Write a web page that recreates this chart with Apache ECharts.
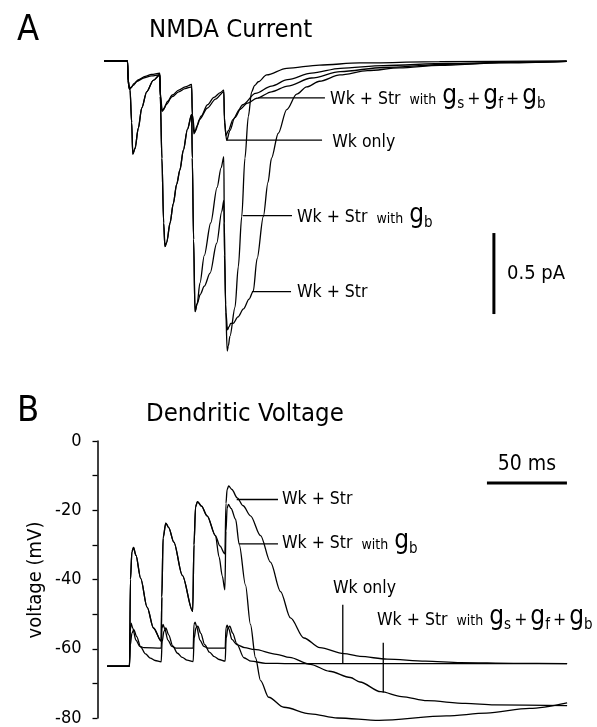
<!DOCTYPE html>
<html><head><meta charset="utf-8">
<script src="https://cdn.jsdelivr.net/npm/echarts@6/dist/echarts.min.js"></script>
<style>html,body{margin:0;padding:0;background:#fff}#c{width:597px;height:727px}</style>
</head><body><div id="c"></div>
<script>
const FONT = "'DejaVu Sans Condensed','Liberation Sans Narrow','Arial Narrow',sans-serif";

// ---- time axis (ms after first stimulus), shared by both panels ----
const timeMin = -20, timeMax = 275;

// ---- Panel A: NMDA current (pA, inward = negative) ----
const currentWkOnly = [
[-14.7,0],[0,0],[0.4,-0.12],[1.5,-0.17],[2.5,-0.16],[4,-0.14],[7,-0.115],[11,-0.095],[15,-0.083],[20.2,-0.075],
[20.6,-0.22],[21.8,-0.31],[23,-0.29],[25,-0.25],[28,-0.21],[32,-0.18],[36,-0.16],[40.1,-0.145],
[40.5,-0.33],[42,-0.44],[43.5,-0.40],[46,-0.34],[50,-0.27],[54,-0.225],[58,-0.195],[60.2,-0.18],
[60.6,-0.38],[62,-0.49],[64,-0.43],[67,-0.35],[72,-0.27],[80,-0.20],[90,-0.155],[100,-0.115],[115,-0.075],[133,-0.045],[160,-0.028],[200,-0.015],[240,-0.007],[274.5,-0.002]
];
const currentGsGfGb = [
[-14.7,0],[0,0],[0.4,-0.12],[1.2,-0.175],[2.3,-0.165],[3.5,-0.15],[6,-0.125],[10,-0.105],[15,-0.092],[20.2,-0.085],
[20.6,-0.2],[21.5,-0.31],[22.5,-0.30],[24,-0.27],[28,-0.22],[32,-0.19],[36,-0.17],[40.1,-0.16],
[40.5,-0.33],[41.5,-0.45],[42.5,-0.43],[45,-0.36],[50,-0.29],[55,-0.235],[60.2,-0.19],
[60.6,-0.35],[61.5,-0.46],[63,-0.43],[66,-0.36],[70,-0.30],[75,-0.26],[80.8,-0.23],[90,-0.19],[100,-0.155],[115,-0.105],[133,-0.065],[160,-0.04],[200,-0.02],[240,-0.009],[274.5,-0.002]
];
const currentWkStr = [
[-14.7,0],[0,0],[0.6,-0.15],[1.6,-0.18],[2.6,-0.38],[3.3,-0.575],[4.7,-0.54],[6.75,-0.415],[8.9,-0.29],[12,-0.19],[16.1,-0.12],[20.2,-0.085],
[20.5,-0.22],[21.5,-0.6],[22.6,-1.0],[23.4,-1.146],[24.5,-1.12],[26.6,-1.0],[28.6,-0.88],[30.75,-0.76],[32.8,-0.67],[34.9,-0.55],[37.5,-0.42],[40.1,-0.33],
[40.5,-0.6],[41.3,-1.1],[42.2,-1.547],[43.5,-1.5],[45.5,-1.44],[48,-1.39],[51.6,-1.31],[55.75,-1.125],[58.9,-0.93],[60.2,-0.86],
[60.6,-1.2],[61.5,-1.55],[62.5,-1.66],[63.5,-1.64],[64.5,-1.62],[66,-1.62],[69,-1.58],[72.5,-1.53],[76,-1.47],[78.6,-1.42],[81,-1.22],[84.9,-0.96],[87.8,-0.75],[90,-0.6],[94.25,-0.446],[99.5,-0.30],[105.75,-0.205],[112,-0.16],[120,-0.125],[132.8,-0.086],[150,-0.06],[170,-0.042],[195,-0.027],[233,-0.012],[274.5,-0.002]
];
const currentWkStrGb = [
[-14.7,0],[0,0],[0.6,-0.15],[1.6,-0.18],[2.6,-0.38],[3.3,-0.575],[4.7,-0.54],[6.75,-0.415],[8.9,-0.29],[12,-0.19],[16.1,-0.12],[20.2,-0.085],
[20.5,-0.22],[21.5,-0.6],[22.6,-1.0],[23.4,-1.146],[24.5,-1.12],[26.6,-1.0],[28.6,-0.88],[30.75,-0.76],[32.8,-0.67],[34.9,-0.55],[37.5,-0.42],[40.1,-0.33],
[40.5,-0.6],[41.3,-1.1],[42.2,-1.547],[43.5,-1.5],[45.3,-1.37],[48,-1.2],[52,-1.0],[56,-0.78],[58.5,-0.66],[60.2,-0.59],
[60.5,-1.0],[61.3,-1.5],[62.3,-1.79],[63,-1.76],[64,-1.70],[67.2,-1.52],[69.25,-1.27],[71.4,-0.96],[73.4,-0.6],[75.5,-0.344],[77.6,-0.19],[79.5,-0.15],[81.75,-0.128],[87,-0.086],[99.5,-0.045],[120,-0.025],[145,-0.012],[195,-0.004],[274.5,0]
];

// ---- Panel B: dendritic voltage (mV) ----
const voltageWkOnly = [
[-14,-65],[0,-65],[0.5,-59],[1.5,-55.5],[2.7,-54.5],[4.5,-56.5],[7,-59.5],[10,-61.5],[13,-62.7],[16,-63.4],[19.8,-63.8],
[20.4,-58],[21.5,-55],[22.7,-54],[24.5,-56],[27,-59.2],[30,-61.3],[33,-62.5],[36,-63.3],[39.8,-63.7],
[40.4,-57],[41.5,-54],[42.7,-53.5],[44.5,-55.5],[47,-58.8],[50,-61],[53,-62.3],[56,-63.1],[59.8,-63.6],
[60.4,-57],[61.5,-54],[62.7,-53.5],[64.5,-55.5],[67,-58.5],[71.5,-62.6],[76,-63.6],[85,-64.2],[100,-64.3],[273.5,-64.3]
];
const voltageGsGfGb = [
[-14,-65],[0,-65],[0.4,-55],[1,-52.6],[2,-54],[4,-57.5],[6.5,-59.3],[9,-59.7],[19.8,-59.8],
[20.3,-54],[21,-53],[22,-54.2],[24,-57.5],[26.5,-59.3],[29,-59.8],[39.8,-59.8],
[40.3,-53],[41,-52.3],[42,-53.7],[44,-57.5],[46.5,-59.3],[49,-59.8],[59.8,-59.8],
[60.3,-54],[61,-53.2],[62,-54.2],[64,-57.3],[67,-58.8],[72,-59.7],[78,-60.2],[92,-61.6],[100,-62.5],[113,-64.5],[125,-66.5],[138,-68.3],[144,-69.6],[157,-72.4],[170,-73.8],[186,-75],[210,-75.8],[228,-76.2],[273.5,-76.4]
];
const voltageWkStr = [
[-14,-65],[0,-65],[0.6,-40],[1.5,-32],[2.5,-30.7],[4,-33],[7,-39.7],[11,-48],[15,-54],[19.8,-57.8],
[20.2,-45],[21,-28],[22.7,-23.7],[24.5,-25],[27.7,-29.2],[33,-38.8],[39.5,-49.2],
[40.3,-30],[41.3,-19],[42.5,-17.5],[45,-18.8],[48.5,-21.6],[53.7,-27.3],[56.5,-30.3],[59.6,-32.6],
[60.3,-18],[61,-14],[62,-13],[64,-14],[67.3,-16.4],[71,-18.7],[75.6,-21.6],[81.9,-27.3],[88.1,-35],[94.4,-43.5],[100.6,-51.1],[109,-56.9],[119,-59.7],[134,-61.4],[144,-62.2],[161,-63],[185,-63.6],[207,-64],[240,-64.2],[273.5,-64.3]
];
const voltageWkStrGb = [
[-14,-65],[0,-65],[0.6,-40],[1.5,-32],[2.5,-30.7],[4,-33],[7,-39.7],[11,-48],[15,-54],[19.8,-57.8],
[20.2,-45],[21,-28],[22.7,-23.7],[24.5,-25],[27.7,-29.2],[33,-38.8],[39.5,-49.2],
[40.3,-30],[41.3,-19],[42.5,-17.5],[45,-18.8],[48.5,-21.6],[53.7,-27.3],[56,-33.5],[58,-39],[59.6,-43],
[60.3,-26],[61,-19.5],[61.8,-18.3],[63.5,-19.5],[66.3,-22.6],[68.6,-29.9],[72.5,-41.6],[75.6,-53],[78.75,-62.6],[81.9,-69.2],[87,-74],[96.5,-76.9],[113,-78.8],[130,-80],[156,-80.7],[198,-79.4],[223,-78.6],[250,-77.2],[273.5,-75.6]
];
const voltageTicks = { min: -80, max: 0, interval: 20 };

// ---- scale bars (data units) ----
const scaleTime = 50;   // ms
const scaleCurrent = 0.5; // pA

const chart = echarts.init(document.getElementById('c'), null, {renderer: 'canvas', width: 597, height: 727});
const trace = (data, idx) => ({
  type: 'line', xAxisIndex: idx, yAxisIndex: idx, data: data,
  symbol: 'none', smooth: 0.3, smoothMonotone: 'x', clip: false, silent: true,
  lineStyle: {color: '#000', width: 1.3}
});
chart.setOption({
  animation: false,
  backgroundColor: '#fff',
  grid: [
    {left: 95.5, right: 29.5, top: 44.8, bottom: 358.2},
    {left: 97.5, right: 27.5, top: 441, bottom: 7}
  ],
  xAxis: [
    {gridIndex: 0, type: 'value', min: timeMin, max: timeMax, show: false},
    {gridIndex: 1, type: 'value', min: timeMin, max: timeMax, show: false}
  ],
  yAxis: [
    {gridIndex: 0, type: 'value', min: -1.9, max: 0.1, show: false},
    {gridIndex: 1, type: 'value', min: voltageTicks.min, max: voltageTicks.max, interval: voltageTicks.interval,
     axisLine: {show: true, onZero: false, lineStyle: {color: '#000', width: 1.5}},
     axisTick: {show: true, length: 5, lineStyle: {color: '#000', width: 1.3}},
     minorTick: {show: true, splitNumber: 2, length: 5, lineStyle: {color: '#000', width: 1.3}},
     splitLine: {show: false},
     axisLabel: {color: '#000', fontSize: 18, fontFamily: FONT, margin: 16}}
  ],
  series: [
    trace(currentWkOnly, 0), trace(currentGsGfGb, 0), trace(currentWkStr, 0), trace(currentWkStrGb, 0),
    trace(voltageWkOnly, 1), trace(voltageGsGfGb, 1), trace(voltageWkStr, 1), trace(voltageWkStrGb, 1)
  ]
});

// ---- annotations ----
const cvs = document.createElement('canvas').getContext('2d');
function fontStr(s) { return s + 'px ' + FONT; }
function measure(t, s) { cvs.font = fontStr(s); return cvs.measureText(t).width; }
const els = [];
function txt(t, x, y, s, opts) {
  opts = opts || {};
  els.push({type: 'text', x: x, y: y, rotation: opts.rot || 0, z: 100,
    style: {text: t, font: fontStr(s), fill: '#000', textAlign: opts.align || 'left', textVerticalAlign: 'middle',
            align: opts.align || 'left', verticalAlign: 'middle'}});
}
function seg(p1, p2, w) {
  els.push({type: 'line', z: 100, shape: {x1: p1[0], y1: p1[1], x2: p2[0], y2: p2[1]},
    style: {stroke: '#000', lineWidth: w || 1.3}});
}
const LBL = 17.5;
// sequence of pieces: [text, size, isSub, gapBefore]
function seq(x, yMid, pieces) {
  const base = yMid + 0.35 * LBL;
  let cx = x;
  pieces.forEach(p => {
    cx += p[3] || 0;
    const s = p[1];
    const b = base + (p[2] ? 4.5 : 0);
    txt(p[0], cx, b - 0.3465 * s, s);
    cx += measure(p[0], s);
  });
}
const withPieces = (subs) => {
  const arr = [['Wk + Str', LBL, false, 0], ['with', 14, false, 9]];
  subs.forEach((sb, i) => {
    if (i > 0) arr.push(['+', LBL, false, 3]);
    arr.push(['g', 26, false, i === 0 ? 6 : 3]);
    arr.push([sb, 15, true, 0]);
  });
  return arr;
};
const pA = (t, v) => chart.convertToPixel({gridIndex: 0}, [t, v]);
const pB = (t, v) => chart.convertToPixel({gridIndex: 1}, [t, v]);

// Panel A labels
seg(pA(81.6, -0.228), pA(123.4, -0.228));
seq(pA(126.6, 0)[0], pA(0, -0.228)[1] + 1, withPieces(['s', 'f', 'b']));
seg(pA(62, -0.488), pA(121.6, -0.488));
seq(pA(128, 0)[0], pA(0, -0.488)[1] + 2, [['Wk only', LBL, false, 0]]);
seg(pA(72, -0.955), pA(102.8, -0.955));
seq(pA(105.9, 0)[0], pA(0, -0.955)[1] + 2, withPieces(['b']));
seg(pA(77.8, -1.424), pA(102.2, -1.424));
seq(pA(105.9, 0)[0], pA(0, -1.424)[1] + 1, [['Wk + Str', LBL, false, 0]]);
// current scale bar
seg(pA(229, -1.062), pA(229, -1.062 - scaleCurrent), 3);
txt('0.5 pA', pA(237.2, 0)[0], pA(0, -1.062 - scaleCurrent / 2)[1], 20);

// Panel B labels
seg(pB(67, -16.9), pB(92.8, -16.9));
seq(pB(95.3, 0)[0], pB(0, -16.9)[1], [['Wk + Str', LBL, false, 0]]);
seg(pB(68.4, -29.7), pB(92.8, -29.7));
seq(pB(95.3, 0)[0], pB(0, -29.7)[1], withPieces(['b']));
seg(pB(133.3, -47.3), pB(133.3, -64.2));
seq(pB(127.2, 0)[0], pB(0, -42.6)[1], [['Wk only', LBL, false, 0]]);
seg(pB(158.6, -58.3), pB(158.6, -72.6));
seq(pB(154.7, 0)[0], pB(0, -51.7)[1], withPieces(['s', 'f', 'b']));
// time scale bar
seg(pB(223.4, -12.1), pB(223.4 + scaleTime, -12.1), 3);
txt('50 ms', pB(223.4 + scaleTime / 2, 0)[0], pB(0, -6.9)[1], 21, {align: 'center'});

// titles and axis name
txt('A', 17, 31, 36);
txt('NMDA Current', 149, 30, 25.5);
txt('B', 17, 412, 36);
txt('Dendritic Voltage', 146, 414, 25.5);
txt('voltage (mV)', 36, 580, 20, {align: 'center', rot: Math.PI / 2});

chart.setOption({graphic: {elements: els}});
</script>
</body></html>
